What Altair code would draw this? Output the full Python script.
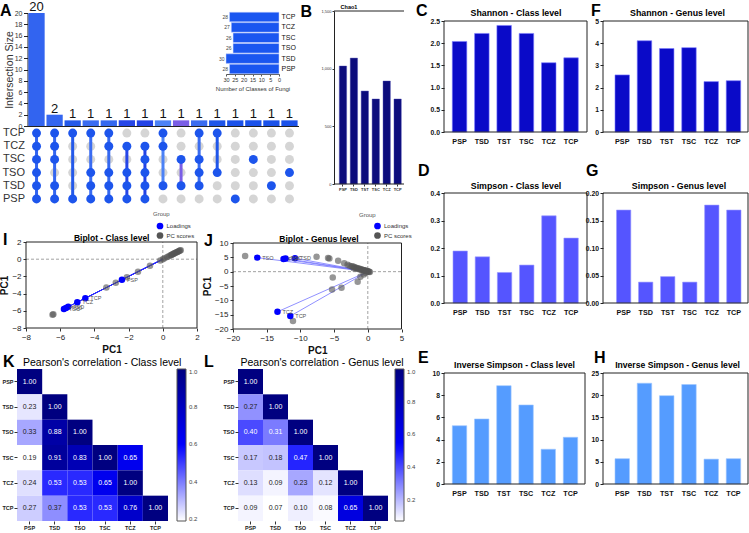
import altair as alt
import pandas as pd

W, H = 749, 533
SANS = "Liberation Sans, Arial, Helvetica, sans-serif"

# ---------------- data ----------------
groups = ["PSP", "TSD", "TST", "TSC", "TCZ", "TCP"]
chao1 = [1023, 1092, 806, 737, 893, 737]
shannon_class = [2.04, 2.22, 2.40, 2.22, 1.56, 1.67]
shannon_genus = [2.57, 4.11, 3.76, 3.80, 2.27, 2.31]
simpson_class = [0.189, 0.168, 0.111, 0.138, 0.317, 0.236]
simpson_genus = [0.169, 0.038, 0.048, 0.038, 0.178, 0.169]
invsimpson_class = [5.25, 5.86, 8.86, 7.12, 3.13, 4.21]
invsimpson_genus = [5.7, 22.7, 19.9, 22.4, 5.6, 5.7]

# UpSet plot of shared fungal classes
upset_sets = ["TCP", "TCZ", "TSC", "TSO", "TSD", "PSP"]
set_sizes = [28, 27, 26, 26, 30, 28]
inter_ids = [f"I{i:02d}" for i in range(1, 16)]
inter_sizes = [20, 2, 1, 1, 1, 1, 1, 1, 1, 1, 1, 1, 1, 1, 1]
inter_members = [
    ["TCP", "TCZ", "TSC", "TSO", "TSD", "PSP"],
    ["TCP", "TCZ", "TSC", "TSD", "PSP"],
    ["TCP", "PSP"],
    ["TCP", "TSO", "TSD", "PSP"],
    ["TCP", "TCZ", "TSO", "TSD", "PSP"],
    ["TCZ", "TSO", "TSD", "PSP"],
    ["TCZ", "TSC", "TSO", "TSD", "PSP"],
    ["TCP", "TCZ", "TSD"],
    ["TSC", "TSD"],
    ["TCP", "TSC", "TSO", "TSD"],
    ["TCP", "TSO"],
    ["PSP"],
    ["TSC"],
    ["TSD"],
    ["TSO"],
]
inter_colors = ["#3264f0", "#3466f0", "#2459ea", "#3a6cf2", "#3468f0", "#2646e8",
                "#2242e6", "#4c82f6", "#7a5ee6", "#3a6cf0", "#1f56ea", "#1b52ea",
                "#1b52ea", "#1b52ea", "#1b52ea"]

# Biplot - class level (PC1 on both axes)
class_scores = [-6.45, -6.4, -3.3, -2.75, -2.1, -1.45, -0.75, -0.15, 0.0, 0.1, 0.25,
                0.35, 0.45, 0.5, 0.55, 0.6, 0.65, 0.7, 0.75, 0.8, 0.85, 0.9, 0.95,
                1.0, 1.05]
class_load_names = ["TSC", "TSO", "TSD", "TCZ", "TCP", "PSP"]
class_loadings = [-5.78, -5.66, -5.53, -5.0, -4.53, -2.39]

# Biplot - genus level
genus_score_x = [-18.2, -7.6, -5.9, -5.7, -4.4, -3.5, -3.0, -2.7, -2.4, -2.2, -2.0, -1.8,
                 -1.6, -1.4, -1.2, -1.0, -0.85, -0.7, -0.55, -0.4, -0.25, -0.1, 0.0,
                 0.1, 0.2, 0.3, -2.1, -1.7, -1.3, -0.9, -0.5, -0.2,
                 -5.2, -5.3, -3.9, -1.5, -1.1, -0.6, -0.3, -11.1]
genus_score_y = [5.5, 5.2, 4.8, 4.6, 3.8, 2.9, 2.4, 2.1, 1.9, 1.8, 1.6, 1.4,
                 1.3, 1.1, 1.0, 0.85, 0.7, 0.6, 0.5, 0.4, 0.3, 0.2, 0.1,
                 0.05, 0.0, -0.1, 1.2, 1.0, 0.8, 0.5, 0.3, 0.1,
                 -2.0, -6.2, -5.6, -3.5, -1.75, -1.0, -0.5, -17.2]
genus_load_names = ["TSO", "PSP", "TSC", "TSD", "TCZ", "TCP"]
genus_load_x = [-16.4, -12.5, -12.2, -10.8, -13.4, -11.5]
genus_load_y = [4.9, 4.4, 4.6, 4.7, -14.0, -15.5]

# Pearson's correlation (rows listed from the first column onwards)
corr_groups = ["PSP", "TSD", "TSO", "TSC", "TCZ", "TCP"]
corr_class = [
    [1.00],
    [0.23, 1.00],
    [0.33, 0.88, 1.00],
    [0.19, 0.91, 0.83, 1.00, 0.65],
    [0.24, 0.53, 0.53, 0.65, 1.00],
    [0.27, 0.37, 0.53, 0.53, 0.76, 1.00],
]
corr_genus = [
    [1.00],
    [0.27, 1.00],
    [0.40, 0.31, 1.00],
    [0.17, 0.18, 0.47, 1.00],
    [0.13, 0.09, 0.23, 0.12, 1.00],
    [0.09, 0.07, 0.10, 0.08, 0.65, 1.00],
]

one = pd.DataFrame({"k": [0]})


# ---------------- helpers ----------------
def sc(domain, rng):
    return alt.Scale(domain=domain, range=rng, nice=False, zero=False)


def band(domain, rng, pi=0.0, po=0.0):
    return alt.Scale(type="band", domain=domain, range=rng, paddingInner=pi, paddingOuter=po)


def text_at(txt, x, y, size, weight="normal", align="left", color="#000"):
    return alt.Chart(one).mark_text(
        text=txt, fontSize=size, fontWeight=weight, align=align, font=SANS,
        color=color, baseline="alphabetic"
    ).encode(x=alt.value(x), y=alt.value(y))


def frame(x0, x1, y0, y1, color="#222", width=1.0):
    return alt.Chart(one).mark_rect(fillOpacity=0, stroke=color, strokeWidth=width).encode(
        x=alt.X(datum=0, scale=sc([0, 1], [x0, x1]), axis=None),
        x2=alt.X2(datum=1),
        y=alt.Y(datum=0, scale=sc([0, 1], [y1, y0]), axis=None),
        y2=alt.Y2(datum=1),
    )


def bar_panel(values, box, brange, dom, ticks, fmt, color, stroke):
    x0, x1, y0, y1 = box
    df = pd.DataFrame({"group": groups, "v": values})
    bars = alt.Chart(df).mark_bar(color=color, stroke=stroke, strokeWidth=0.6).encode(
        x=alt.X("group:N", scale=band(groups, brange, 0.35, 0.0),
                axis=alt.Axis(orient="bottom", offset=y1 - H, title=None, labelAngle=0,
                              ticks=False, domain=False, labelFontSize=7.2,
                              labelFontWeight="bold", labelPadding=5, labelColor="#111")),
        y=alt.Y("v:Q", scale=sc(dom, [y1, y0]),
                axis=alt.Axis(orient="left", offset=-x0, values=ticks, format=fmt, title=None,
                              domain=False, tickSize=3, tickColor="#222",
                              labelFontSize=6.8, labelFontWeight="bold", labelPadding=1.5,
                              labelColor="#111", labelOverlap=False, labelFlush=False)),
    )
    return [bars, frame(x0, x1, y0, y1)]


def biplot(sx, sy, lnames, lx, ly, xdom, ydom, box, xticks, yticks, leg_x, leg_y,
           line_color, ytitle_pad):
    x0, x1, y0, y1 = box
    xs = sc(xdom, [x0, x1])
    ys = sc(ydom, [y1, y0])
    scores = pd.DataFrame({"pc_x": sx, "pc_y": sy, "Group": "PC scores", "name": ""})
    loads = pd.DataFrame({"pc_x": lx, "pc_y": ly, "Group": "Loadings", "name": lnames})
    pts = pd.concat([scores, loads], ignore_index=True)
    zero_v = alt.Chart(one).mark_rule(color="#8a8a8a", strokeDash=[3, 2], strokeWidth=0.8).encode(
        x=alt.X(datum=0, scale=xs, axis=None),
        y=alt.Y(datum=ydom[0], scale=ys, axis=None), y2=alt.Y2(datum=ydom[1]))
    zero_h = alt.Chart(one).mark_rule(color="#8a8a8a", strokeDash=[3, 2], strokeWidth=0.8).encode(
        y=alt.Y(datum=0, scale=ys, axis=None),
        x=alt.X(datum=xdom[0], scale=xs, axis=None), x2=alt.X2(datum=xdom[1]))
    arrows = alt.Chart(loads).mark_rule(color=line_color, strokeWidth=0.8).encode(
        x=alt.X("pc_x:Q", scale=xs, axis=None), y=alt.Y("pc_y:Q", scale=ys, axis=None),
        x2=alt.X2(datum=0), y2=alt.Y2(datum=0))
    points = alt.Chart(pts).mark_circle(size=42).encode(
        x=alt.X("pc_x:Q", scale=xs,
                axis=alt.Axis(orient="bottom", offset=y1 - H, values=xticks, title="PC1",
                              titleFontSize=10, titleFontWeight="bold", titleColor="#111",
                              titlePadding=3, labelFontSize=8, labelColor="#222", tickSize=3,
                              tickColor="#333", domain=False, labelOverlap=False,
                              labelFlush=False)),
        y=alt.Y("pc_y:Q", scale=ys,
                axis=alt.Axis(orient="left", offset=-x0, values=yticks, title="PC1",
                              titleFontSize=10, titleFontWeight="bold", titleColor="#111",
                              titlePadding=ytitle_pad, labelFontSize=8, labelColor="#222",
                              tickSize=3, tickColor="#333", domain=False, labelOverlap=False,
                              labelFlush=False)),
        color=alt.Color("Group:N",
                        scale=alt.Scale(domain=["Loadings", "PC scores"],
                                        range=["#0000ff", "#555555"]),
                        legend=alt.Legend(orient="none", legendX=leg_x, legendY=leg_y,
                                          title=None, labelFontSize=6, labelColor="#333",
                                          symbolSize=45, symbolType="circle", rowPadding=2.5,
                                          labelOffset=3, symbolStrokeWidth=0)),
        opacity=alt.condition("datum.Group == 'PC scores'", alt.value(0.62), alt.value(1.0)),
    )
    names = alt.Chart(loads).mark_text(align="left", baseline="middle", dx=5, fontSize=5.5,
                                        color="#555").encode(
        x=alt.X("pc_x:Q", scale=xs, axis=None), y=alt.Y("pc_y:Q", scale=ys, axis=None),
        text="name:N")
    return [zero_v, zero_h, arrows, points, names, frame(x0, x1, y0, y1)]


def heatmap(rows, box, cmin, cmid, leg_x):
    x0, x1, y0, y1 = box
    recs = []
    for r, vals in zip(corr_groups, rows):
        for c, v in zip(corr_groups, vals):
            recs.append({"row": r, "col": c, "v": v})
    df = pd.DataFrame(recs)
    xs = band(corr_groups, [x0, x1])
    ys = band(corr_groups, [y0, y1])
    cells = alt.Chart(df).mark_rect().encode(
        x=alt.X("col:N", scale=xs,
                axis=alt.Axis(orient="bottom", offset=y1 - H, title=None, labelAngle=0,
                              labelFontSize=5.5, labelFontWeight="bold", labelColor="#222",
                              tickSize=3, tickColor="#333", domain=False, labelPadding=1)),
        y=alt.Y("row:N", scale=ys,
                axis=alt.Axis(orient="left", offset=-x0, title=None, labelFontSize=5.5,
                              labelFontWeight="bold", labelColor="#222", tickSize=3,
                              tickColor="#333", domain=False, labelPadding=1)),
        color=alt.Color("v:Q",
                        scale=alt.Scale(type="linear", domain=[cmin, cmid, 1.0],
                                        range=["#ffffff", "#0000ff", "#000080"],
                                        interpolate="rgb"),
                        legend=alt.Legend(orient="none", legendX=leg_x, legendY=y0,
                                          direction="vertical", gradientLength=y1 - y0,
                                          gradientThickness=9, title=None,
                                          values=[0.2, 0.4, 0.6, 0.8, 1.0], format=".1f",
                                          labelFontSize=6, labelColor="#444",
                                          gradientStrokeColor="#555", gradientStrokeWidth=1,
                                          labelOffset=3)),
    )
    vals = alt.Chart(df).mark_text(fontSize=7, baseline="middle").encode(
        x=alt.X("col:N", scale=xs, axis=None),
        y=alt.Y("row:N", scale=ys, axis=None),
        text=alt.Text("v:Q", format=".2f"),
        color=alt.condition(f"(datum.v - {cmin}) / (1 - {cmin}) < 0.25",
                            alt.value("#222222"), alt.value("#ffffff")),
    )
    return [cells, vals]


layers = []

# ---------------- A: UpSet ----------------
bars_df = pd.DataFrame({"id": inter_ids, "size": inter_sizes})
x_up = band(inter_ids, [27.5, 298.5], 0.1, 0.05)
y_up = sc([0, 20], [126, 13])
col_scale = alt.Scale(domain=inter_ids, range=inter_colors)
layers.append(alt.Chart(bars_df).mark_bar().encode(
    x=alt.X("id:N", scale=x_up,
            axis=alt.Axis(orient="bottom", offset=126 - H, labels=False, ticks=False,
                          title=None, domain=True, domainColor="#222")),
    y=alt.Y("size:Q", scale=y_up,
            axis=alt.Axis(orient="left", offset=-27.5, values=list(range(0, 21, 2)),
                          title="Intersection Size", titleFontSize=10.5,
                          titleFontWeight="normal", titleColor="#333", titlePadding=0,
                          labelFontSize=7, labelColor="#333", tickSize=4, domainColor="#222",
                          tickColor="#222", labelPadding=1.5, labelOverlap=False,
                          labelFlush=False)),
    color=alt.Color("id:N", scale=col_scale, legend=None),
))
layers.append(alt.Chart(bars_df).mark_text(baseline="alphabetic", dy=-2, fontSize=13,
                                           color="#111").encode(
    x=alt.X("id:N", scale=x_up, axis=None),
    y=alt.Y("size:Q", scale=y_up, axis=None),
    text="size:Q"))

mat_rows = []
for iid, mem in zip(inter_ids, inter_members):
    for i, s in enumerate(upset_sets):
        mat_rows.append({"id": iid, "set": s, "member": "yes" if s in mem else "no", "order": i})
mat = pd.DataFrame(mat_rows)
y_mat = band(upset_sets, [126.5, 205.5])
layers.append(alt.Chart(mat).transform_filter("datum.member == 'no'").mark_circle(
    size=80, opacity=1, color="#d5d5d5").encode(
    x=alt.X("id:N", scale=x_up, axis=None),
    y=alt.Y("set:N", scale=y_mat,
            axis=alt.Axis(orient="left", offset=-27.5, title=None, ticks=False, domain=False,
                          labelFontSize=11, labelColor="#333", labelPadding=3))))
layers.append(alt.Chart(mat).transform_filter("datum.member == 'yes'").mark_line(
    strokeWidth=3).encode(
    x=alt.X("id:N", scale=x_up, axis=None),
    y=alt.Y("set:N", scale=y_mat, axis=None),
    detail="id:N", order="order:Q",
    color=alt.Color("id:N", scale=col_scale, legend=None)))
layers.append(alt.Chart(mat).transform_filter("datum.member == 'yes'").mark_circle(
    size=80, opacity=1, color="#1d55ec").encode(
    x=alt.X("id:N", scale=x_up, axis=None),
    y=alt.Y("set:N", scale=y_mat, axis=None)))

inset_df = pd.DataFrame({"set": upset_sets, "n": set_sizes})
x_in = sc([0, 30], [279, 226])
y_in = band(upset_sets, [12, 74], 0.08, 0.02)
layers.append(alt.Chart(inset_df).mark_bar(color="#1a56f0", stroke="#c8d4ff",
                                           strokeWidth=0.5).encode(
    x=alt.X("n:Q", scale=x_in,
            axis=alt.Axis(orient="bottom", offset=74 - H, values=[0, 5, 10, 15, 20, 25, 30],
                          title="Number of Classes of Fungi", titleFontSize=6,
                          titleFontWeight="normal", titleColor="#333", titlePadding=3,
                          labelFontSize=5.5, labelColor="#333", tickSize=2, tickColor="#555",
                          domainColor="#555", labelPadding=1, labelOverlap=False,
                          labelFlush=False)),
    y=alt.Y("set:N", scale=y_in,
            axis=alt.Axis(orient="right", offset=279 - W, title=None, ticks=False, domain=False,
                          labelFontSize=7, labelColor="#111", labelPadding=2))))
layers.append(alt.Chart(inset_df).mark_text(align="right", baseline="middle", dx=-1.5,
                                            fontSize=5, color="#444").encode(
    x=alt.X("n:Q", scale=x_in, axis=None),
    y=alt.Y("set:N", scale=y_in, axis=None),
    text="n:Q"))

# ---------------- B: Chao1 ----------------
chao_df = pd.DataFrame({"group": groups, "v": chao1})
y_b = sc([0, 1500], [184, 11])
layers.append(alt.Chart(chao_df).mark_bar(color="#0c0c7c", stroke="#4a4ab0",
                                          strokeWidth=0.4).encode(
    x=alt.X("group:N", scale=band(groups, [339.3, 401.3], 0.33, 0.0),
            axis=alt.Axis(orient="bottom", offset=184 - H, title=None, labelAngle=0,
                          labelFontSize=4, labelFontWeight="bold", labelColor="#333",
                          tickSize=2, tickColor="#333", domain=False, labelPadding=1)),
    y=alt.Y("v:Q", scale=y_b,
            axis=alt.Axis(orient="left", offset=-334, values=[0, 500, 1000, 1500], title=None,
                          labelFontSize=4, labelColor="#333", tickSize=2, tickColor="#333",
                          domainColor="#222", labelPadding=1, labelOverlap=False,
                          labelFlush=False))))
for yv in (0, 1500):
    layers.append(alt.Chart(one).mark_rule(color="#222", strokeWidth=1).encode(
        x=alt.X(datum=0, scale=sc([0, 1], [334, 404]), axis=None),
        x2=alt.X2(datum=1),
        y=alt.Y(datum=yv, scale=y_b, axis=None)))

# ---------------- C-H: diversity indices ----------------
layers += bar_panel(shannon_class, (444, 587, 21, 132), [452.3, 578.3], [0, 2.5],
                    [0, 0.5, 1.0, 1.5, 2.0, 2.5], ".1f", "#0a0ac8", "#7a7aff")
layers += bar_panel(shannon_genus, (603, 748, 21, 132), [615, 740.7], [0, 5],
                    [0, 1, 2, 3, 4, 5], "d", "#0a0ac8", "#7a7aff")
layers += bar_panel(simpson_class, (444, 587, 193, 303), [453, 578.3], [0, 0.4],
                    [0, 0.1, 0.2, 0.3, 0.4], ".1f", "#5555ff", "#9a9aff")
layers += bar_panel(simpson_genus, (603, 748, 193, 303), [616.5, 741], [0, 0.2],
                    [0, 0.05, 0.10, 0.15, 0.20], ".2f", "#5555ff", "#9a9aff")
layers += bar_panel(invsimpson_class, (444, 585, 373, 484), [452.3, 577.7], [0, 10],
                    [0, 2, 4, 6, 8, 10], "d", "#559cff", "#a0c8ff")
layers += bar_panel(invsimpson_genus, (603, 748, 373, 484), [615, 740.7], [0, 25],
                    [0, 5, 10, 15, 20, 25], "d", "#559cff", "#a0c8ff")

# ---------------- I, J: biplots ----------------
layers += biplot(class_scores, class_scores, class_load_names, class_loadings, class_loadings,
                 [-8, 2], [-8, 2], (26, 197, 242, 328), [-8, -6, -4, -2, 0, 2],
                 [-8, -6, -4, -2, 0, 2], 156.5, 222.5, "#2a2aff", 2)
layers += biplot(genus_score_x, genus_score_y, genus_load_names, genus_load_x, genus_load_y,
                 [-20, 5], [-20, 10], (233, 401.5, 243, 329), [-20, -15, -10, -5, 0, 5],
                 [-20, -15, -10, -5, 0, 5, 10], 374, 222.5, "#7373ff", 1.5)

# ---------------- K, L: correlation heatmaps ----------------
layers += heatmap(corr_class, (17, 168, 369, 521), 0.19, 0.595, 177)
layers += heatmap(corr_genus, (238, 388, 369, 521), 0.07, 0.535, 395)

# ---------------- titles and panel letters ----------------
layers += [
    text_at("Chao1", 349, 8.5, 5.5, "bold", "center"),
    text_at("Shannon - Class level", 516, 16, 8.8, "bold", "center"),
    text_at("Shannon - Genus level", 677.5, 16, 8.8, "bold", "center"),
    text_at("Simpson - Class level", 516, 189, 8.8, "bold", "center"),
    text_at("Simpson - Genus level", 679, 189, 8.8, "bold", "center"),
    text_at("Inverse Simpson - Class level", 514.5, 367.5, 8.6, "bold", "center"),
    text_at("Inverse Simpson - Genus level", 677.5, 367.5, 8.6, "bold", "center"),
    text_at("Biplot - Class level", 111.7, 241, 8.5, "bold", "center"),
    text_at("Biplot - Genus level", 319, 241.5, 8.5, "bold", "center"),
    text_at("Group", 153, 216, 6, "normal", "left", "#555"),
    text_at("Group", 359, 217, 6, "normal", "left", "#555"),
    text_at("Pearson's correlation - Class level", 23, 366, 10.5),
    text_at("Pearson's correlation - Genus level", 240.5, 366, 10.5),
]
for letter, lx, ly in [("A", 0, 15.5), ("B", 300.5, 17), ("C", 416, 15.5), ("F", 591, 15.5),
                       ("D", 418, 176), ("G", 586, 176), ("E", 418, 363), ("H", 594, 363),
                       ("I", 3, 245), ("J", 204, 246), ("K", 3, 367), ("L", 204, 367)]:
    layers.append(text_at(letter, lx, ly, 16, "bold"))

chart = alt.layer(*layers).resolve_scale(
    x="independent", y="independent", color="independent"
).properties(
    width=W, height=H, padding=0, autosize=alt.AutoSizeParams(type="none")
).configure(font=SANS).configure_view(stroke=None).configure_axis(
    grid=False, labelFont=SANS, titleFont=SANS
).configure_legend(labelFont=SANS)

chart.save("out.html", embed_options={"renderer": "svg", "actions": False})
